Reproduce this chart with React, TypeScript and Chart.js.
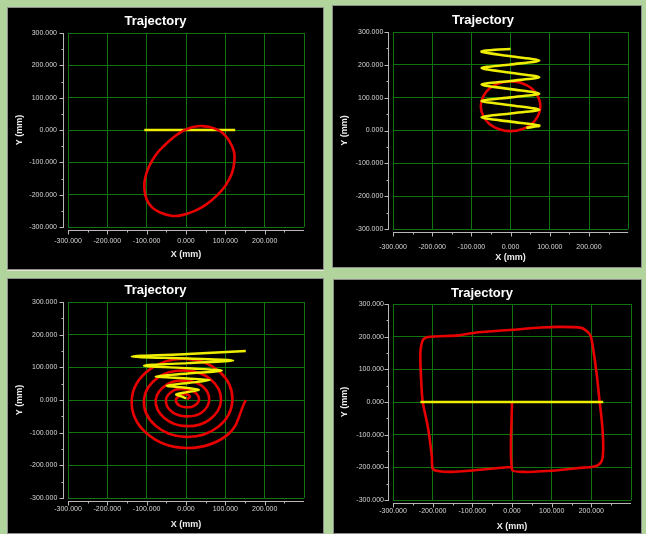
import React, { useEffect, useRef } from "react";
import { Chart, registerables } from "chart.js";

Chart.register(...registerables);

// ---------- data ----------
const majorTicks = [-300, -200, -100, 0, 100, 200, 300];
const minorTicks = [-250, -150, -50, 50, 150, 250];

// Panel 1: tilted ellipse (red) + straight line (yellow)
const p1RedX = [-4, 21, 43, 72, 94, 111, 122, 123, 117, 102, 81, 51, 21, -13, -38, -64, -85, -100, -106, -104, -94, -77, -55, -30, -4];
const p1RedY = [0, 10, 12, 5, -10, -36, -67, -97, -133, -169, -200, -231, -251, -264, -265, -256, -241, -215, -180, -149, -113, -77, -48, -21, 0];
const p1YellowX = [-106, 125];
const p1YellowY = [0, 0];

// Panel 2: helix (yellow) + circle (red)
const p2YellowX = [0, -40, -74, 0, 73, 0, -74, 0, 73, 0, -74, 0, 73, 0, -74, 0, 73, 0, -74, 0, 73, 40];
const p2YellowY = [248, 246, 240, 226, 213, 201, 190, 176, 162, 151, 140, 126, 112, 101, 90, 77, 63, 52, 40, 27, 15, 8];
const p2RedX = [0, 29, 54, 70, 76, 70, 54, 29, 0, -29, -54, -70, -76, -70, -54, -29, 0];
const p2RedY = [150, 144, 128, 103, 74, 45, 20, 4, -2, 4, 20, 45, 74, 103, 128, 144, 150];

// Panel 3: spiral (red) + conical helix (yellow)
const p3RedX = [2, 10, 0, -16, -26, -17, 0, 19, 33, 23, 0, -30, -51, -36, 0, 39, 59, 42, 0, -48, -77, -55, 0, 60, 89, 63, 0, -70, -107, -78, 0, 82, 118, 86, 0, -93, -138, -101, 0, 106, 152];
const p3RedY = [2, 10, 18, 13, 0, -17, -22, -19, 0, 23, 33, 30, 0, -36, -50, -39, 0, 42, 59, 48, 0, -55, -80, -60, 0, 63, 90, 70, 0, -78, -113, -82, 0, 86, 126, 93, 0, -101, -147, -106, 0];
const p3YellowX = [0, -14, -25, 3, 33, 3, -49, 5, 61, 5, -77, 5, 91, 5, -107, 5, 120, 5, -138, 5, 152];
const p3YellowY = [5, 12, 17, 24, 31, 37, 44, 52, 61, 66, 72, 81, 90, 97, 105, 113, 121, 127, 133, 141, 150];

// Panel 4: square-ish loop (red) + straight line (yellow)
const p4RedX = [0, 0, 32, 74, 116, 167, 200, 217, 227, 230, 228, 224, 221, 214, 205, 199, 192, 175, 116, 74, 0, -94, -136, -212, -225, -231, -229, -225, -212, -202, -200, -187, -153, -94, -35, -2];
const p4RedY = [0, -207, -214, -212, -209, -202, -199, -193, -178, -140, -80, -30, 0, 80, 160, 199, 213, 227, 230, 228, 221, 212, 204, 199, 189, 148, 66, 0, -77, -168, -204, -211, -214, -209, -202, -199];
const p4YellowX = [-231, 230];
const p4YellowY = [0, 0];

// ---------- styling ----------
const FONT = "'Liberation Sans', Arial, sans-serif";
const GRID = "#107410";
const RED = "rgb(232,0,0)";
const YELLOW = "rgb(238,238,0)";

function pts(xs: number[], ys: number[]) {
  return xs.map((x, i) => ({ x, y: ys[i] }));
}

const axisDecor = {
  id: "axisDecor",
  afterDraw(chart: any) {
    const { ctx, chartArea: a, scales } = chart;
    const xs = scales.x;
    const ys = scales.y;
    ctx.save();
    ctx.strokeStyle = "#b8b8b8";
    ctx.lineWidth = 1;
    const ax = Math.round(a.left - 5) + 0.5;
    const ay = Math.round(a.bottom + 3) + 0.5;
    ctx.beginPath();
    ctx.moveTo(ax, a.top);
    ctx.lineTo(ax, a.bottom + 1);
    ctx.moveTo(a.left, ay);
    ctx.lineTo(a.right, ay);
    const all = [...majorTicks.map((v) => [v, 4]), ...minorTicks.map((v) => [v, 2])];
    for (const [v, len] of all) {
      const py = Math.round(ys.getPixelForValue(v)) + 0.5;
      ctx.moveTo(ax - len, py);
      ctx.lineTo(ax, py);
      if (v < 300) {
        const px = Math.round(xs.getPixelForValue(v)) + 0.5;
        ctx.moveTo(px, ay);
        ctx.lineTo(px, ay + len);
      }
    }
    ctx.stroke();
    ctx.restore();
  },
};

type Spec = {
  x: number; y: number; w: number; h: number;
  padRight: number; titleTop: number; titleBottom: number;
  xH: number; yW: number; xTickPad: number; xTitlePad: number;
  yTitlePad: number; yTickPad: number;
  datasets: any[];
};

function line(xs: number[], ys: number[], color: string, tension: number, width = 2.6) {
  return {
    data: pts(xs, ys),
    showLine: true,
    borderColor: color,
    backgroundColor: color,
    borderWidth: width,
    pointRadius: 0,
    tension,
    fill: false,
  };
}

const specs: Spec[] = [
  {
    x: 7, y: 7, w: 317, h: 263, padRight: 20, titleTop: 6.2, titleBottom: 4.2,
    xH: 43, yW: 61, xTickPad: 10, xTitlePad: 9.6, yTitlePad: 7.6, yTickPad: 11,
    datasets: [line(p1RedX, p1RedY, RED, 0.4), line(p1YellowX, p1YellowY, YELLOW, 0)],
  },
  {
    x: 332, y: 5, w: 310, h: 263, padRight: 8, titleTop: 7.2, titleBottom: 4.2,
    xH: 39, yW: 61, xTickPad: 13.8, xTitlePad: 4.6, yTitlePad: 7.6, yTickPad: 9.7,
    datasets: [line(p2YellowX, p2YellowY, YELLOW, 0.3), line(p2RedX, p2RedY, RED, 0.4)],
  },
  {
    x: 7, y: 278, w: 317, h: 256, padRight: 20, titleTop: 4.2, titleBottom: 4.2,
    xH: 36, yW: 61, xTickPad: 6.8, xTitlePad: 3.6, yTitlePad: 7.6, yTickPad: 10.7,
    datasets: [line(p3YellowX, p3YellowY, YELLOW, 0.3, 2.4), line(p3RedX, p3RedY, RED, 0.4)],
  },
  {
    x: 333, y: 279, w: 309, h: 255, padRight: 11, titleTop: 6.2, titleBottom: 3.2,
    xH: 34, yW: 60, xTickPad: 6.8, xTitlePad: 1.9, yTitlePad: 6.6, yTickPad: 9,
    datasets: [line(p4YellowX, p4YellowY, YELLOW, 0), line(p4RedX, p4RedY, RED, 0.25)],
  },
];

function buildConfig(s: Spec): any {
  const tickFont = { family: FONT, size: 7 };
  const titleFont = { family: FONT, size: 9, weight: "bold" as const };
  return {
    type: "scatter",
    data: { datasets: s.datasets },
    options: {
      responsive: false,
      animation: false,
      devicePixelRatio: 1,
      layout: { padding: { left: 0, right: s.padRight, top: 0, bottom: 0 } },
      plugins: {
        legend: { display: false },
        tooltip: { enabled: false },
        title: {
          display: true,
          text: "Trajectory",
          color: "#ffffff",
          font: { family: FONT, size: 13, weight: "bold" },
          padding: { top: s.titleTop, bottom: s.titleBottom },
        },
      },
      scales: {
        x: {
          type: "linear",
          min: -300,
          max: 300,
          ticks: {
            stepSize: 100,
            autoSkip: false,
            maxRotation: 0,
            color: "#d6d6d6",
            font: tickFont,
            padding: s.xTickPad,
            callback: (v: any) => (Number(v) >= 300 ? "" : Number(v).toFixed(3)),
          },
          grid: { color: GRID, drawTicks: false, lineWidth: 1 },
          border: { display: false },
          title: { display: true, text: "X (mm)", color: "#eeeeee", font: titleFont, padding: { top: 0, bottom: s.xTitlePad } },
          afterFit: (sc: any) => { sc.height = s.xH; },
        },
        y: {
          type: "linear",
          min: -300,
          max: 300,
          ticks: {
            stepSize: 100,
            autoSkip: false,
            color: "#d6d6d6",
            font: tickFont,
            padding: s.yTickPad,
            callback: (v: any) => Number(v).toFixed(3),
          },
          grid: { color: GRID, drawTicks: false, lineWidth: 1 },
          border: { display: false },
          title: { display: true, text: "Y (mm)", color: "#eeeeee", font: titleFont, padding: { top: s.yTitlePad, bottom: 0 } },
          afterFit: (sc: any) => { sc.width = s.yW; },
        },
      },
    },
    plugins: [axisDecor],
  };
}

function Panel({ s }: { s: Spec }) {
  const ref = useRef<HTMLCanvasElement | null>(null);
  useEffect(() => {
    if (!ref.current) return;
    const chart = new Chart(ref.current, buildConfig(s));
    return () => chart.destroy();
  }, [s]);
  return (
    <>
      <div
        style={{
          position: "absolute", left: s.x, top: s.y, width: s.w, height: s.h,
          background: "#000", boxSizing: "border-box", border: "1px solid #8e8e8e",
        }}
      />
      <canvas
        ref={ref}
        width={s.w}
        height={s.h}
        style={{ position: "absolute", left: s.x, top: s.y, width: s.w, height: s.h, display: "block" }}
      />
    </>
  );
}

export default function App() {
  return (
    <div
      style={{
        position: "absolute", left: 0, top: 0, width: 646, height: 534,
        background: "#b1d49c", overflow: "hidden",
      }}
    >
      <div style={{ position: "absolute", left: 7, top: 268, width: 317, height: 3, background: "#e6e6d2" }} />
      {specs.map((s, i) => (
        <Panel key={i} s={s} />
      ))}
    </div>
  );
}
